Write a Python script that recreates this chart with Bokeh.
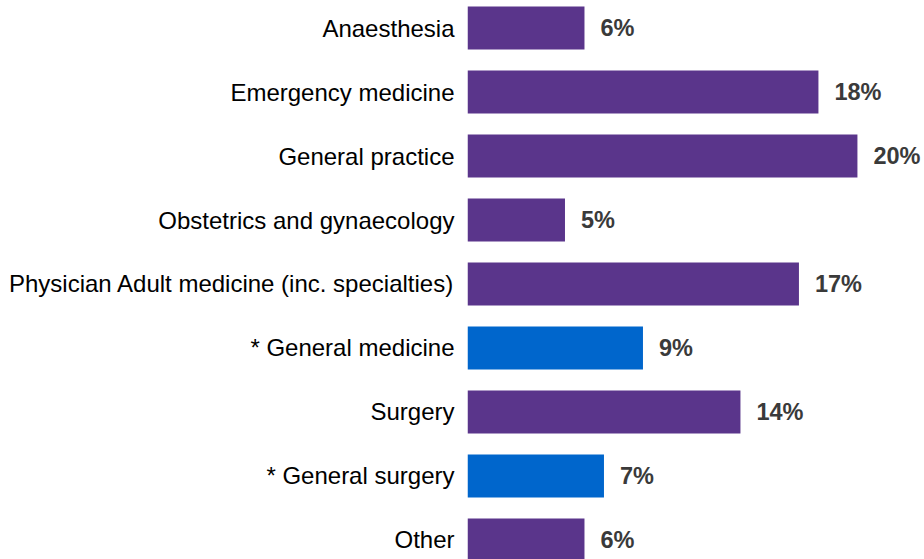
import numpy as np
from bokeh.plotting import figure
from bokeh.models import ColumnDataSource, Range1d, FixedTicker
from bokeh.core.properties import value
from bokeh.embed import file_html
from bokeh.resources import INLINE

categories = ["Anaesthesia", "Emergency medicine", "General practice",
              "Obstetrics and gynaecology",
              "Physician Adult medicine (inc. specialties)",
              "* General medicine", "Surgery", "* General surgery", "Other"]
percents = [6, 18, 20, 5, 17, 9, 14, 7, 6]
colors = ["#5a358b", "#5a358b", "#5a358b", "#5a358b", "#5a358b",
          "#0066cc", "#5a358b", "#0066cc", "#5a358b"]

pos = list(range(len(categories)))
src = ColumnDataSource(dict(y=pos, v=percents, c=colors,
                            lab=[f"{p}%" for p in percents]))

p = figure(width=924, height=559, output_backend="svg", toolbar_location=None,
           x_range=Range1d(0, 23.44), y_range=Range1d(8.305, -0.43),
           min_border_left=467, min_border_right=0, min_border_top=0,
           min_border_bottom=0)
p.hbar(y="y", left=0, right="v", height=0.672, fill_color="c", line_color=None,
       source=src)
p.text(x="v", y="y", text="lab", source=src, x_offset=16,
       text_align="left", text_baseline="middle",
       text_font=value("Liberation Sans"), text_font_style="bold",
       text_font_size="23.5px", text_color="#3a3a3a")

p.xaxis.visible = False
p.yaxis.ticker = FixedTicker(ticks=pos)
p.yaxis.major_label_overrides = {i: c for i, c in zip(pos, categories)}
p.yaxis.axis_line_color = None
p.yaxis.major_tick_line_color = None
p.yaxis.major_tick_out = 0
p.yaxis.major_tick_in = 0
p.yaxis.minor_tick_line_color = None
p.yaxis.major_label_standoff = 13
p.yaxis.major_label_text_font = "Liberation Sans"
p.yaxis.major_label_text_font_size = "24px"
p.yaxis.major_label_text_color = "#000000"
p.xgrid.visible = False
p.ygrid.visible = False
p.outline_line_color = None
p.background_fill_color = "white"
p.border_fill_color = "white"

open("out.html", "w").write(file_html(p, INLINE))
